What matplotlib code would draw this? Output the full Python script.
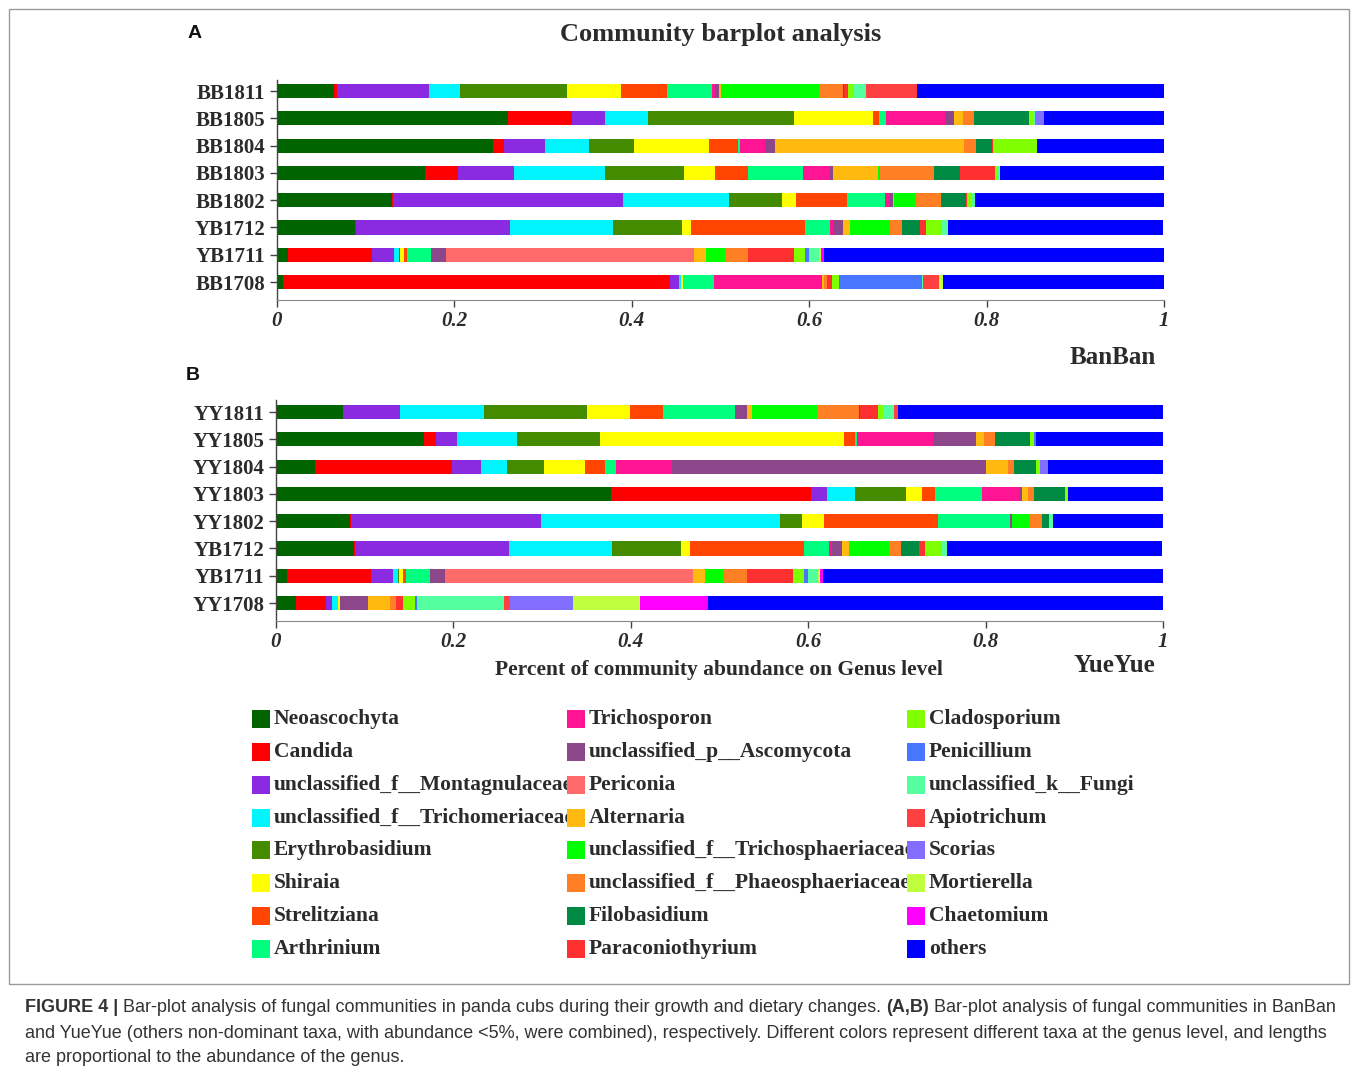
import numpy as np
import matplotlib.pyplot as plt
from matplotlib.patches import Rectangle

W, H = 1358, 1072

taxa = ['Neoascochyta', 'Candida', 'unclassified_f__Montagnulaceae',
        'unclassified_f__Trichomeriaceae', 'Erythrobasidium', 'Shiraia',
        'Strelitziana', 'Arthrinium', 'Trichosporon', 'unclassified_p__Ascomycota',
        'Periconia', 'Alternaria', 'unclassified_f__Trichosphaeriaceae',
        'unclassified_f__Phaeosphaeriaceae', 'Filobasidium', 'Paraconiothyrium',
        'Cladosporium', 'Penicillium', 'unclassified_k__Fungi', 'Apiotrichum',
        'Scorias', 'Mortierella', 'Chaetomium', 'others']
colors = ['#006400', '#FF0000', '#8A2BE2', '#00F5FF', '#458B00', '#FFFF00',
          '#FF4500', '#00FF7F', '#FF1493', '#8B4789', '#FF6A6A', '#FFB90F',
          '#00FF00', '#FF7F24', '#008B45', '#FF3030', '#7FFF00', '#4876FF',
          '#54FF9F', '#FF4040', '#836FFF', '#C0FF3E', '#FF00FF', '#0000FF']

# percent abundance, same order as taxa
bb1811 = [6.51, 0.34, 10.38, 3.46, 12.07, 6.01, 5.22, 5.12, 0.26, 0.48, 0, 0.27,
          10.97, 2.74, 0.11, 0.45, 0.64, 0, 1.43, 5.71, 0, 0, 0, 27.82]
bb1805 = [26.05, 7.22, 3.77, 4.85, 16.39, 8.94, 0.68, 0.76, 6.69, 0.98, 0, 0.98,
          0, 1.27, 6.20, 0, 0.48, 0, 0.19, 0, 1.05, 0, 0, 13.50]
bb1804 = [24.36, 1.24, 4.62, 5.01, 5.03, 8.42, 3.30, 0.27, 2.77, 1.13, 0, 21.36,
          0, 1.31, 1.77, 0.15, 4.96, 0, 0, 0, 0, 0, 0, 14.29]
bb1803 = [16.74, 3.68, 6.39, 10.15, 8.94, 3.54, 3.68, 6.17, 3.12, 0.34, 0, 5.00,
          0.23, 6.09, 2.93, 3.95, 0.30, 0, 0.26, 0, 0, 0, 0, 18.50]
bb1802 = [13.05, 0.11, 25.90, 11.95, 5.93, 1.62, 5.67, 4.36, 0.41, 0.45, 0, 0.16,
          2.48, 2.82, 2.74, 0.11, 0.60, 0, 0.38, 0, 0, 0, 0, 21.24]
yb1712 = [8.88, 0.11, 17.37, 11.54, 7.78, 1.06, 12.81, 2.86, 0.26, 1.21, 0, 0.74,
          4.48, 1.39, 2.00, 0.68, 1.84, 0, 0.68, 0, 0, 0, 0, 24.21]
yb1711 = [1.24, 9.52, 2.51, 0.56, 0.10, 0.45, 0.30, 2.74, 0, 1.69, 27.89, 1.43,
          2.06, 2.59, 0, 5.19, 1.29, 0.41, 1.21, 0, 0, 0.19, 0.37, 38.23]
bb1708 = [0.76, 43.53, 1.05, 0.19, 0, 0.30, 0, 3.50, 12.07, 0.11, 0, 0.18,
          0, 0.30, 0, 0.64, 0.74, 9.36, 0.11, 1.80, 0, 0.45, 0, 24.89]

yy1811 = [7.59, 0, 6.43, 9.44, 11.62, 4.88, 3.69, 8.15, 0, 1.35, 0, 0.56,
          7.30, 4.70, 0.15, 2.03, 0.56, 0, 1.21, 0.48, 0, 0, 0, 29.89]
yy1805 = [16.77, 1.31, 2.33, 6.77, 9.33, 27.52, 1.31, 0.16, 8.64, 4.78, 0, 0.90,
          0, 1.27, 3.87, 0, 0.53, 0.23, 0, 0, 0, 0, 0, 14.32]
yy1804 = [4.48, 15.37, 3.35, 2.89, 4.14, 4.66, 2.22, 1.21, 6.38, 35.38, 0, 2.51,
          0, 0.61, 2.48, 0, 0.48, 0, 0, 0, 0.90, 0, 0, 12.97]
yy1803 = [37.75, 22.56, 1.84, 3.16, 5.75, 1.84, 1.43, 5.22, 4.22, 0.29, 0, 0.68,
          0, 0.72, 3.50, 0, 0.29, 0, 0, 0, 0, 0, 0, 10.79]
yy1802 = [8.35, 0.11, 21.46, 26.89, 2.51, 2.45, 12.89, 8.09, 0, 0.26, 0, 0,
          2.00, 1.35, 0.79, 0, 0, 0, 0.41, 0, 0, 0, 0, 12.48]
yy1708 = [2.29, 3.38, 0.68, 0.68, 0, 0.27, 0, 0, 0, 3.08, 0, 2.56,
          0, 0.60, 0, 0.82, 1.35, 0.27, 9.77, 0.68, 7.07, 7.59, 7.60, 51.35]

banban_names = ['BB1811', 'BB1805', 'BB1804', 'BB1803', 'BB1802', 'YB1712', 'YB1711', 'BB1708']
banban_rows = [bb1811, bb1805, bb1804, bb1803, bb1802, yb1712, yb1711, bb1708]
yueyue_names = ['YY1811', 'YY1805', 'YY1804', 'YY1803', 'YY1802', 'YB1712', 'YB1711', 'YY1708']
yueyue_rows = [yy1811, yy1805, yy1804, yy1803, yy1802, yb1712, yb1711, yy1708]

xticks = [0, 0.2, 0.4, 0.6, 0.8, 1]
xtick_labels = ['0', '0.2', '0.4', '0.6', '0.8', '1']

serif = 'Liberation Serif'
txt = '#2b2b2b'


def stacked(ax, names, rows, ylim):
    data = np.array(rows, dtype=float) / 100.0
    y = np.arange(len(names))
    left = np.zeros(len(names))
    for k in range(len(taxa)):
        ax.barh(y, data[:, k], left=left, height=0.52, color=colors[k], linewidth=0)
        left += data[:, k]
    ax.set_xlim(0, 1)
    ax.set_ylim(*ylim)
    ax.set_yticks(y)
    ax.set_yticklabels(names, fontfamily=serif, fontweight='bold', fontsize=15, color=txt)
    ax.set_xticks(xticks)
    ax.set_xticklabels(xtick_labels, fontfamily=serif, fontweight='bold',
                       fontstyle='italic', fontsize=15, color=txt)
    for s in ['top', 'right']:
        ax.spines[s].set_visible(False)
    ax.spines['left'].set_color('#444444')
    ax.spines['bottom'].set_color('#888888')
    ax.spines['left'].set_linewidth(1)
    ax.spines['bottom'].set_linewidth(0.8)
    ax.tick_params(axis='y', length=5, width=1, color='#444444', pad=3)
    ax.tick_params(axis='x', length=5, width=1, color='#444444', pad=3)


fig = plt.figure(figsize=(W / 100, H / 100), dpi=100)

axA = fig.add_axes([276.5 / W, 1 - 300 / H, 887.5 / W, 220 / H])
stacked(axA, banban_names, banban_rows, (7.656, -0.403))
axB = fig.add_axes([275.5 / W, 1 - 621 / H, 887.5 / W, 221 / H])
stacked(axB, yueyue_names, yueyue_rows, (7.656, -0.44))

# overlay in pixel coordinates for texts, legend, frame
ov = fig.add_axes([0, 0, 1, 1], zorder=-1)
ov.set_xlim(0, W)
ov.set_ylim(H, 0)
ov.axis('off')

ov.add_patch(Rectangle((9, 9), 1340, 975, fill=False, edgecolor='#9a9a9a', linewidth=1))

ov.text(721, 35, 'Community barplot analysis', ha='center', va='center',
        fontfamily=serif, fontweight='bold', fontsize=19, color=txt)
ov.text(188, 33, 'A', ha='left', va='center', fontfamily='Liberation Sans',
        fontweight='bold', fontsize=14, color='#111111')
ov.text(186, 376, 'B', ha='left', va='center', fontfamily='Liberation Sans',
        fontweight='bold', fontsize=14, color='#111111')
ov.text(1156, 357, 'BanBan', ha='right', va='center', fontfamily=serif,
        fontweight='bold', fontsize=18, color=txt)
ov.text(1155, 665, 'YueYue', ha='right', va='center', fontfamily=serif,
        fontweight='bold', fontsize=18, color=txt)
ov.text(719, 670, 'Percent of community abundance on Genus level', ha='center',
        va='center', fontfamily=serif, fontweight='bold', fontsize=15.5, color=txt)

# legend, 3 columns x 8 rows
col_sq = [252, 567, 907]
row_y = [719, 751.9, 784.7, 817.6, 850.4, 883.3, 916.1, 949]
for i, (name, c) in enumerate(zip(taxa, colors)):
    col, row = divmod(i, 8)
    x0 = col_sq[col]
    y0 = row_y[row]
    ov.add_patch(Rectangle((x0, y0 - 9), 18, 18, facecolor=c, edgecolor='none', zorder=3))
    t = ov.text(x0 + 22, y0, name, ha='left', va='center', fontfamily=serif,
                fontweight='bold', fontsize=15.5, color=txt, zorder=2)
    if col < 2:
        clip = Rectangle((x0 + 20, y0 - 20), col_sq[col + 1] - x0 - 20, 40,
                         transform=ov.transData)
        t.set_clip_path(clip)

# caption
cap_font = ['Liberation Sans Narrow', 'Liberation Sans']
cap_lines = [
    [('FIGURE 4 |', 'bold'),
     (' Bar-plot analysis of fungal communities in panda cubs during their growth and dietary changes. ', 'normal'),
     ('(A,B)', 'bold'),
     (' Bar-plot analysis of fungal communities in BanBan', 'normal')],
    [('and YueYue (others non-dominant taxa, with abundance <5%, were combined), respectively. '
      'Different colors represent different taxa at the genus level, and lengths', 'normal')],
    [('are proportional to the abundance of the genus.', 'normal')],
]
cap_y = [1008, 1033, 1058]
renderer = fig.canvas.get_renderer()
for line, yy in zip(cap_lines, cap_y):
    x = 25
    for s, w in line:
        t = ov.text(x, yy, s, ha='left', va='center', fontfamily=cap_font,
                    fontweight=w, fontsize=13, color='#333333')
        x += t.get_window_extent(renderer).width

fig.savefig('out.png', dpi=100)
